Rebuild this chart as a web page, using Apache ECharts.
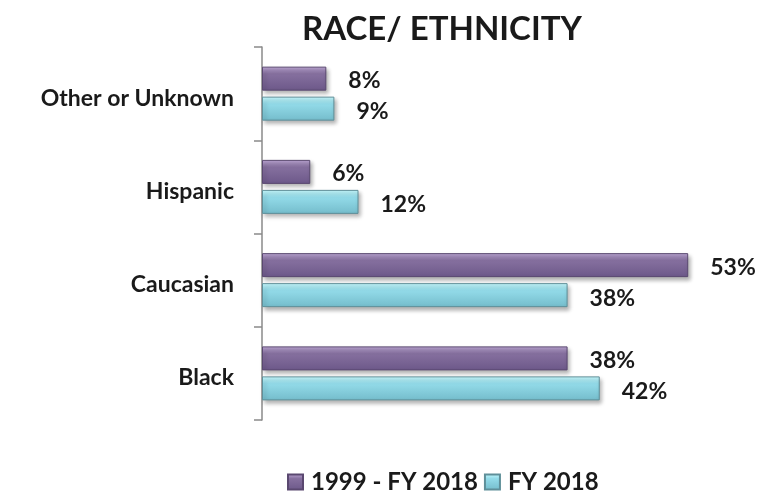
<!DOCTYPE html>
<html>
<head>
<meta charset="utf-8">
<script src="https://cdn.jsdelivr.net/npm/echarts@6/dist/echarts.min.js"></script>
<style>html,body{margin:0;padding:0;background:#fff}#c{width:775px;height:495px}</style>
</head>
<body>
<div id="c"></div>
<script>
const categories = ['Black', 'Caucasian', 'Hispanic', 'Other or Unknown'];
const seriesNames = ['1999 - FY 2018', 'FY 2018'];
const values1999 = [38, 53, 6, 8];
const valuesFY2018 = [42, 38, 12, 9];

const FONT = 'Lato, "Open Sans", sans-serif';
const chart = echarts.init(document.getElementById('c'));

function grad(top, mid, bot) {
  return new echarts.graphic.LinearGradient(0, 0, 0, 1, [
    {offset: 0, color: top}, {offset: 0.3, color: mid}, {offset: 1, color: bot}
  ]);
}
const purple = grad('#bea8d6', '#86709f', '#6c5889');
const cyan = grad('#c8fbff', '#93dbe9', '#74bccb');

const labelStyle = {
  show: true, position: 'right', distance: 22, offset: [0, 2],
  formatter: '{c}%', fontFamily: FONT, fontWeight: 'bold', fontSize: 23, color: '#1a1a1a'
};

chart.setOption({
  animation: false,
  title: {
    text: 'RACE/ ETHNICITY', left: 437, top: 8, textAlign: 'center',
    textStyle: {fontFamily: FONT, fontWeight: 'bold', fontSize: 33, color: '#1a1a1a'}
  },
  legend: {
    data: seriesNames, top: 465, left: 282, itemWidth: 15, itemHeight: 15, itemGap: 6,
    icon: 'rect',
    textStyle: {fontFamily: FONT, fontWeight: 'bold', fontSize: 24, color: '#1a1a1a', padding: [0, 0, 0, 3]}
  },
  grid: {left: 262, top: 47, bottom: 75, right: 30.5},
  xAxis: {
    type: 'value', min: 0, max: 60, show: false
  },
  yAxis: {
    type: 'category', data: categories,
    axisLine: {show: true, lineStyle: {color: '#8a8a8a', width: 1.5}},
    axisTick: {show: true, length: 8, lineStyle: {color: '#8a8a8a', width: 1.5}},
    axisLabel: {margin: 28, fontFamily: FONT, fontWeight: 'bold', fontSize: 23, color: '#1a1a1a',
      verticalAlign: 'top', lineHeight: 9}
  },
  series: [
    {
      name: seriesNames[0], type: 'bar', data: values1999, barWidth: 24, barGap: '25%',
      itemStyle: {color: purple, borderColor: '#5a4870', borderWidth: 1,
        shadowColor: 'rgba(0,0,0,0.3)', shadowBlur: 4, shadowOffsetX: 2, shadowOffsetY: 3},
      label: labelStyle, z: 2
    },
    {
      name: seriesNames[1], type: 'bar', data: valuesFY2018, barWidth: 24, barGap: '25%',
      itemStyle: {color: cyan, borderColor: '#5f8f99', borderWidth: 1,
        shadowColor: 'rgba(0,0,0,0.3)', shadowBlur: 4, shadowOffsetX: 2, shadowOffsetY: 3},
      label: Object.assign({}, labelStyle, {offset: [0, 3]}), z: 2
    }
  ]
});
</script>
</body>
</html>
